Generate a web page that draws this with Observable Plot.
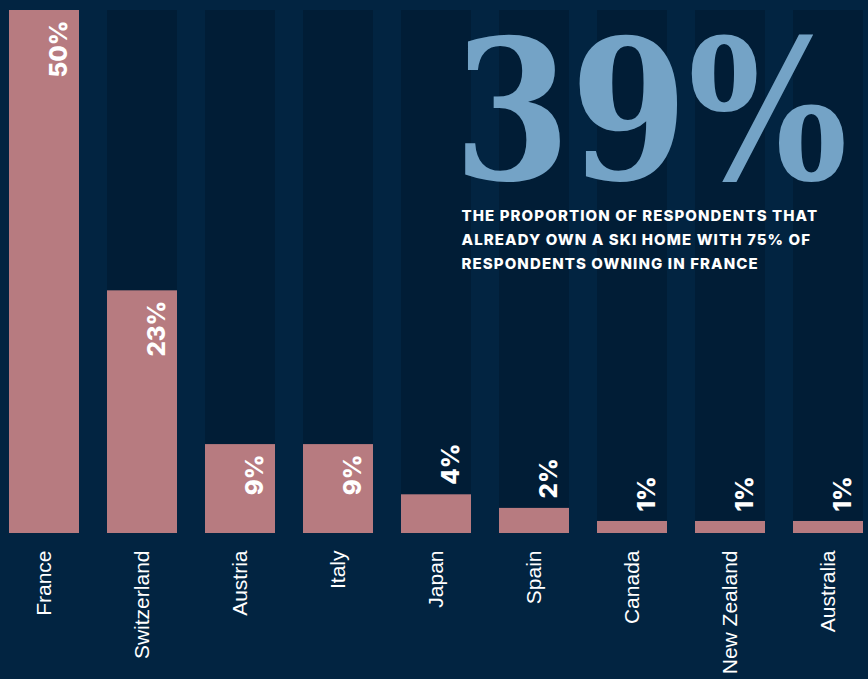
<!DOCTYPE html>
<html><head><meta charset="utf-8">
<script src="https://cdn.jsdelivr.net/npm/d3@7"></script>
<script src="https://cdn.jsdelivr.net/npm/@observablehq/plot@0.6"></script>
<style>
html,body{margin:0;padding:0;background:#022441;}
#chart svg{display:block;}
</style></head><body><div id="chart"></div>
<script>
const countries = ["France","Switzerland","Austria","Italy","Japan","Spain","Canada","New Zealand","Australia"];
const shares = [50, 23.2, 8.5, 8.5, 3.7, 2.4, 1.15, 1.15, 1.15];
const shareLabels = ["50%","23%","9%","9%","4%","2%","1%","1%","1%"];
const headline = "39%";
const caption = "THE PROPORTION OF RESPONDENTS THAT\nALREADY OWN A SKI HOME WITH 75% OF\nRESPONDENTS OWNING IN FRANCE";

const data = countries.map((c, i) => ({country: c, share: shares[i], label: shareLabels[i]}));
const yMax = 50;
const labelStyle = {x: "country", y: "share", text: "label", rotate: -90, dx: 15, fill: "#ffffff", fontSize: 24, fontWeight: 800, fontFamily: "Inter"};

const chart = Plot.plot({
  width: 868, height: 679,
  marginTop: 10, marginBottom: 146, marginLeft: 9, marginRight: 5,
  style: {background: "#022441", overflow: "visible"},
  x: {domain: countries, paddingInner: 28 / 98, paddingOuter: 0, axis: null},
  y: {domain: [0, yMax], axis: null},
  marks: [
    Plot.barY(data, {x: "country", y: () => yMax, fill: "#011d36"}),
    Plot.barY(data, {x: "country", y: "share", fill: "#b77b80"}),
    Plot.text(data.filter(d => d.share >= 5), {...labelStyle, textAnchor: "end", dy: 10}),
    Plot.text(data.filter(d => d.share < 5), {...labelStyle, textAnchor: "start", dy: -10}),
    Plot.text(data, {x: "country", y: () => 0, text: "country", rotate: -90, textAnchor: "end", dy: 17, fill: "#ffffff", fontSize: 21, fontFamily: "Liberation Sans"}),
    Plot.text([headline], {frameAnchor: "top-left", text: d => d, dx: 444, dy: 168, lineAnchor: "bottom", textAnchor: "start", fontFamily: "DejaVu Serif", fontWeight: 700, fontSize: 195, fill: "#74a3c6"}),
    Plot.text([caption], {frameAnchor: "top-left", text: d => d, dx: 452, dy: 193, lineAnchor: "top", textAnchor: "start", lineHeight: 1.6, fontFamily: "Inter", fontWeight: 800, fontSize: 15, fill: "#ffffff"})
  ]
});
d3.select(chart).selectAll("text").each(function() {
  const t = this.textContent;
  if (t.startsWith("THE PROPORTION")) this.style.letterSpacing = "1.1px";
  if (t === headline) {
    this.setAttribute("textLength", 394);
    this.setAttribute("lengthAdjust", "spacingAndGlyphs");
  }
});
document.getElementById("chart").appendChild(chart);
</script></body></html>
